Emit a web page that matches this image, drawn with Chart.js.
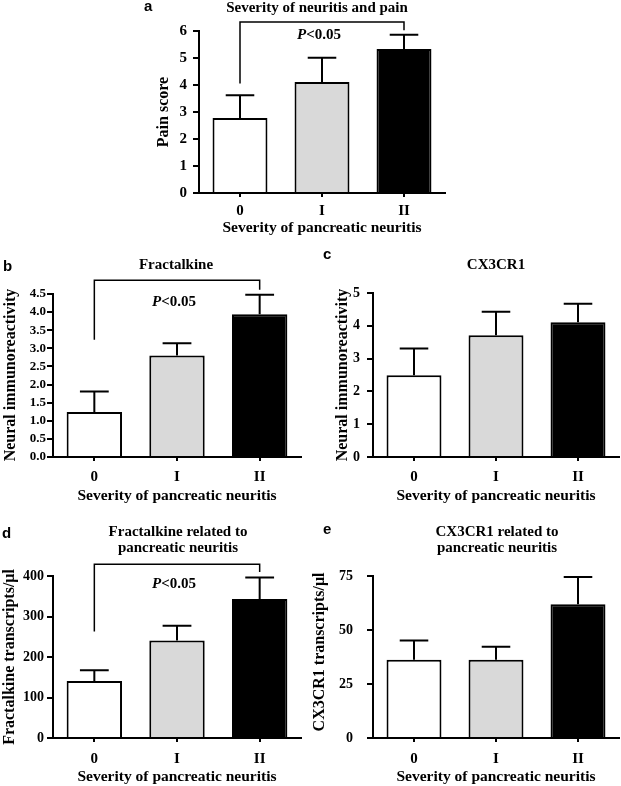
<!DOCTYPE html>
<html>
<head>
<meta charset="utf-8">
<script src="https://cdn.jsdelivr.net/npm/chart.js@4.4.0/dist/chart.umd.min.js"></script>
<style>
body{margin:0;background:#fff;}
#wrap{position:relative;width:621px;height:786px;}
canvas{position:absolute;left:0;top:0;}
</style>
</head>
<body>
<div id="wrap">
<canvas id="pa" width="621" height="786"></canvas>
<canvas id="pb" width="621" height="786"></canvas>
<canvas id="pc" width="621" height="786"></canvas>
<canvas id="pd" width="621" height="786"></canvas>
<canvas id="pe" width="621" height="786"></canvas>
</div>
<script>
// data
const categories=['0','I','II'];
const barColors=['#ffffff','#d9d9d9','#000000'];

const painMean=[2.78,4.11,5.33];
const painSem=[0.84,0.90,0.53];
const painTicks=[0,1,2,3,4,5,6];

const fracIrMean=[1.24,2.80,3.94];
const fracIrSem=[0.57,0.34,0.54];
const fracIrTicks=[0,0.5,1,1.5,2,2.5,3,3.5,4,4.5];

const cxIrMean=[2.49,3.71,4.11];
const cxIrSem=[0.82,0.72,0.56];
const cxIrTicks=[0,1,2,3,4,5];

const fracTrMean=[141,241,343];
const fracTrSem=[26,36,53];
const fracTrTicks=[0,100,200,300,400];

const cxTrMean=[36.2,36.2,61.9];
const cxTrSem=[8.9,6.1,12.6];
const cxTrTicks=[0,25,50,75];

const serif='"Liberation Serif","Times New Roman",serif';
const sans='"Liberation Sans",Arial,sans-serif';
const W=621,H=786;

let makePanel=(id,cfg)=>{
    const ctx=document.getElementById(id).getContext('2d');
    const a=cfg.area;

    const overlay={
        id:'overlay'+id,
        afterDatasetsDraw(chart){
            const c=chart.ctx;
            const y=chart.scales.y;
            const bars=chart.getDatasetMeta(0).data;
            c.save();
            // error bars (upper only)
            c.strokeStyle='#000';
            c.lineWidth=2;
            bars.forEach((bar,i)=>{
                const p=bar.getProps(['x','y','width'],true);
                const top=y.getPixelForValue(cfg.mean[i]+cfg.sem[i]);
                const cap=p.width*0.26;
                c.beginPath();
                c.moveTo(p.x,p.y);
                c.lineTo(p.x,top);
                c.moveTo(p.x-cap,top);
                c.lineTo(p.x+cap,top);
                c.stroke();
            });
            // significance bracket
            if(cfg.bracket){
                const b=cfg.bracket;
                const x0=bars[0].x, x2=bars[2].x;
                c.lineWidth=1.5;
                c.beginPath();
                c.moveTo(x0,y.getPixelForValue(b.left));
                c.lineTo(x0,y.getPixelForValue(b.top));
                c.lineTo(x2,y.getPixelForValue(b.top));
                c.lineTo(x2,y.getPixelForValue(b.right));
                c.stroke();
                c.fillStyle='#000';
                c.textBaseline='middle';
                c.textAlign='left';
                const f1='italic bold 15px '+serif, f2='bold 15px '+serif;
                c.font=f1; const w1=c.measureText('P').width;
                c.font=f2; const w2=c.measureText('<0.05').width;
                const tx=bars[1].x-3-(w1+w2)/2, ty=y.getPixelForValue(b.text);
                c.font=f1; c.fillText('P',tx,ty);
                c.font=f2; c.fillText('<0.05',tx+w1,ty);
            }
            // texts
            c.fillStyle='#000';
            c.textBaseline='alphabetic';
            c.textAlign='left';
            c.font='bold 15px '+sans;
            c.fillText(cfg.letter,cfg.letterPos[0],cfg.letterPos[1]);
            c.textAlign='center';
            c.textBaseline='middle';
            c.font='bold 15px '+serif;
            cfg.title.forEach((t,i)=>c.fillText(t,cfg.titleX,cfg.titleY+i*16.5));
            c.font='bold 15.5px '+serif;
            c.fillText('Severity of pancreatic neuritis',(a.l+a.r)/2,cfg.xTitleY);
            c.font='bold 16px '+serif;
            c.translate(cfg.yTitleX,cfg.yTitleY);
            c.rotate(-Math.PI/2);
            c.fillText(cfg.yTitle,0,0);
            c.restore();
        }
    };

    new Chart(ctx,{
        type:'bar',
        data:{
            labels:categories,
            datasets:[{
                data:cfg.mean,
                backgroundColor:barColors,
                borderColor:'#000',
                borderWidth:2,
                barPercentage:0.67,
                categoryPercentage:1
            }]
        },
        options:{
            responsive:false,
            animation:false,
            layout:{padding:{left:a.l-cfg.yW,top:a.t,right:W-a.r,bottom:H-a.b-cfg.xH}},
            plugins:{legend:{display:false},tooltip:{enabled:false},title:{display:false}},
            scales:{
                x:{
                    ticks:{color:'#000',font:{family:serif,weight:'bold',size:cfg.xFont},padding:cfg.xPad,autoSkip:false,maxRotation:0},
                    grid:{offset:false,drawOnChartArea:false,drawTicks:true,tickLength:4,color:'#000',lineWidth:2},
                    border:{color:'#000',width:2},
                    afterFit:(s)=>{s.height=cfg.xH;}
                },
                y:{
                    min:0,
                    max:cfg.ticks[cfg.ticks.length-1],
                    afterBuildTicks:(s)=>{s.ticks=cfg.ticks.map(v=>({value:v}));},
                    ticks:{color:'#000',font:{family:serif,weight:'bold',size:cfg.yFont},padding:cfg.yPad,autoSkip:false,
                        callback:cfg.fmt||((v)=>v)},
                    grid:{drawOnChartArea:false,drawTicks:true,tickLength:6,color:'#000',lineWidth:2},
                    border:{color:'#000',width:2},
                    afterFit:(s)=>{s.width=cfg.yW;}
                }
            }
        },
        plugins:[overlay]
    });
}

makePanel('pa',{
    area:{l:199,t:31,r:445,b:193}, yW:60, xH:47, xFont:15, xPad:5, yFont:15, yPad:6,
    mean:painMean, sem:painSem, ticks:painTicks,
    bracket:{top:6.33,left:4.06,right:6.03,text:5.85},
    letter:'a', letterPos:[144,11],
    title:['Severity of neuritis and pain'], titleX:317, titleY:8,
    xTitleY:228, yTitle:'Pain score', yTitleX:164, yTitleY:112
});
makePanel('pb',{
    area:{l:53,t:294,r:301,b:457}, yW:50, xH:47, xFont:15, xPad:7, yFont:13, yPad:1,
    mean:fracIrMean, sem:fracIrSem, ticks:fracIrTicks, fmt:(v)=>v.toFixed(1),
    bracket:{top:4.88,left:3.24,right:4.62,text:4.28},
    letter:'b', letterPos:[3,271],
    title:['Fractalkine'], titleX:176, titleY:265,
    xTitleY:496, yTitle:'Neural immunoreactivity', yTitleX:11, yTitleY:375
});
makePanel('pc',{
    area:{l:373,t:293,r:619,b:457}, yW:50, xH:47, xFont:15, xPad:7, yFont:14, yPad:7,
    mean:cxIrMean, sem:cxIrSem, ticks:cxIrTicks,
    letter:'c', letterPos:[323,259],
    title:['CX3CR1'], titleX:496, titleY:265,
    xTitleY:496, yTitle:'Neural immunoreactivity', yTitleX:343, yTitleY:375
});
makePanel('pd',{
    area:{l:53,t:576,r:301,b:738}, yW:50, xH:47, xFont:15, xPad:8, yFont:14, yPad:3,
    mean:fracTrMean, sem:fracTrSem, ticks:fracTrTicks,
    bracket:{top:429,left:263,right:410,text:380},
    letter:'d', letterPos:[2,538],
    title:['Fractalkine related to','pancreatic neuritis'], titleX:178, titleY:532,
    xTitleY:777, yTitle:'Fractalkine transcripts/\u03bcl', yTitleX:10, yTitleY:657
});
makePanel('pe',{
    area:{l:373,t:576,r:619,b:738}, yW:50, xH:47, xFont:15, xPad:8, yFont:14, yPad:14,
    mean:cxTrMean, sem:cxTrSem, ticks:cxTrTicks,
    letter:'e', letterPos:[323,534],
    title:['CX3CR1 related to','pancreatic neuritis'], titleX:497, titleY:532,
    xTitleY:777, yTitle:'CX3CR1 transcripts/\u03bcl', yTitleX:320, yTitleY:652
});
</script>
</body>
</html>
